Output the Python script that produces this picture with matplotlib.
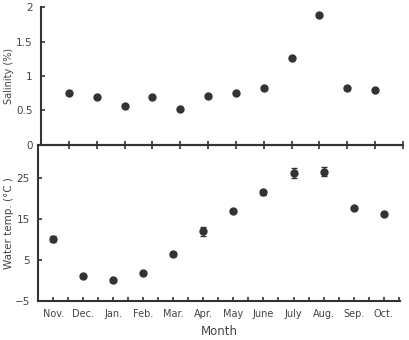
import numpy as np
import matplotlib.pyplot as plt

months = ["Nov.", "Dec.", "Jan.", "Feb.", "Mar.", "Apr.", "May", "June", "July", "Aug.", "Sep.", "Oct."]
salinity = [0.75, 0.70, 0.57, 0.70, 0.52, 0.71, 0.75, 0.83, 1.26, 1.88, 0.83, 0.79]
water_temp = [10.0, 1.0, 0.0, 1.8, 6.5, 11.9, 16.9, 21.4, 26.2, 26.5, 17.6, 16.2]
temp_err = [0.7, 0.3, 0.3, 0.3, 0.5, 1.0, 0.3, 0.5, 1.2, 1.2, 0.3, 0.5]

ink = "#333333"
txt = "#444444"

fig = plt.figure(figsize=(4.1, 3.4), dpi=100)
ax1 = fig.add_axes([0.100, 0.574, 0.883, 0.405])
ax2 = fig.add_axes([0.093, 0.115, 0.883, 0.459])

x = np.arange(len(months))

# salinity panel
ax1.plot(x, salinity, "o", color=ink, markersize=5)
ax1.set_xlim(-1, 12)
ax1.set_ylim(0, 2)
ax1.set_yticks([0, 0.5, 1, 1.5, 2])
ax1.set_yticklabels(["0", "0.5", "1", "1.5", "2"])
ax1.set_xticks(np.arange(0, 13))
ax1.set_xticklabels([])
ax1.tick_params(axis="x", direction="inout", length=6, width=1.2, color=ink)
ax1.tick_params(axis="y", direction="in", length=3, width=1.2, color=ink,
                labelsize=7.5, labelcolor=txt, pad=6)
ax1.set_ylabel("Salinity (%)", fontsize=7, color=txt)
ax1.yaxis.set_label_coords(-0.075, 0.5)
for s in ["top", "right"]:
    ax1.spines[s].set_visible(False)
for s in ["left", "bottom"]:
    ax1.spines[s].set_linewidth(1.5)
    ax1.spines[s].set_color(ink)
ax1.patch.set_alpha(0)

# water temperature panel
ax2.errorbar(x, water_temp, yerr=temp_err, fmt="o", color=ink, markersize=5,
             capsize=2.5, elinewidth=1, capthick=1)
ax2.set_xlim(-0.5, 11.55)
ax2.set_ylim(-5, 33)
ax2.set_yticks([-5, 5, 15, 25])
ax2.set_yticklabels(["\u22125", "5", "15", "25"])
ax2.set_xticks(np.arange(0, 11.6, 0.5))
ax2.set_xticklabels([v for mm in months for v in (mm, "")])
ax2.tick_params(axis="x", direction="in", length=3, width=1.2, color=ink,
                labelsize=7, labelcolor=txt, pad=6)
ax2.tick_params(axis="y", direction="in", length=3, width=1.2, color=ink,
                labelsize=7.5, labelcolor=txt, pad=6)
ax2.set_xlabel("Month", fontsize=8.5, color=txt, labelpad=4)
ax2.set_ylabel("Water temp. (\u00b0C )", fontsize=7.5, color=txt)
ax2.yaxis.set_label_coords(-0.066, 0.5)
ax2.spines["right"].set_visible(False)
for s in ["left", "bottom", "top"]:
    ax2.spines[s].set_linewidth(1.5)
    ax2.spines[s].set_color(ink)
ax2.set_zorder(0)
ax1.set_zorder(1)

fig.savefig("out.png", dpi=100)
